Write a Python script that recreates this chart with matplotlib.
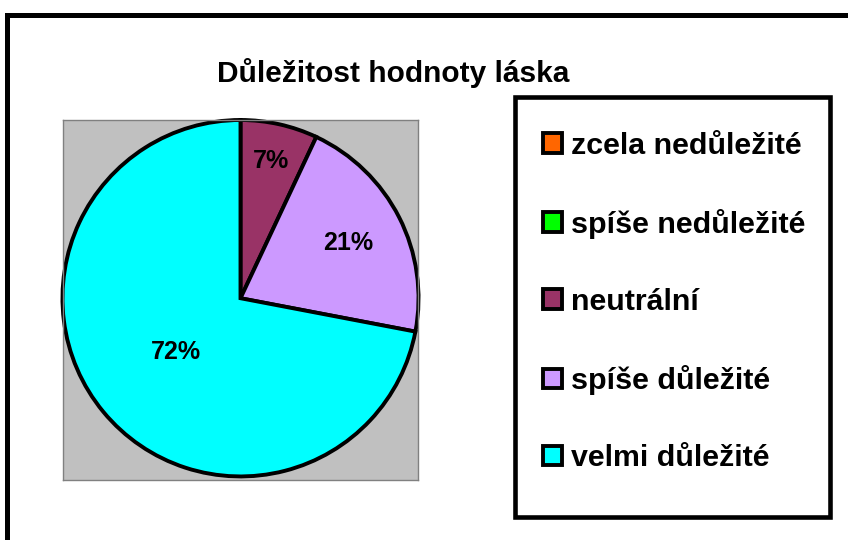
import numpy as np
import matplotlib
matplotlib.use('Agg')
import matplotlib.pyplot as plt
from matplotlib.patches import Rectangle

plt.rcParams['font.family'] = ['Liberation Sans', 'DejaVu Sans']
plt.rcParams['font.weight'] = 'bold'

# --- Data ---
categories = ['zcela nedůležité', 'spíše nedůležité', 'neutrální',
              'spíše důležité', 'velmi důležité']
shares = [0, 0, 7, 21, 72]
colors = ['#FF6600', '#00FF00', '#993366', '#CC99FF', '#00FFFF']
title = 'Důležitost hodnoty láska'

# label distance from center (fraction of radius), per slice
label_dist = [0.0, 0.0, 0.79, 0.68, 0.47]

# --- Plot ---
fig = plt.figure(figsize=(8.48, 5.4), dpi=100)
ax = fig.add_axes([63 / 848, 1 - 480 / 540, 355 / 848, 360 / 540])

wedges, _ = ax.pie(shares, colors=colors, startangle=90, counterclock=False,
                   radius=1.0,
                   wedgeprops=dict(edgecolor='black', linewidth=2.8))

for w, v, d in zip(wedges, shares, label_dist):
    if v == 0:
        continue
    ang = np.deg2rad((w.theta1 + w.theta2) / 2)
    ax.text(d * np.cos(ang), d * np.sin(ang), f'{v}%', ha='center', va='center',
            fontsize=18, fontweight='bold')

ax.set_frame_on(True)
ax.set_facecolor('#C0C0C0')
for s in ax.spines.values():
    s.set_color('#808080')
    s.set_linewidth(1)
ax.set_xlim(-0.997, 0.997)
ax.set_ylim(-1.02, 1.0)
ax.set_aspect('auto')
ax.set_xticks([])
ax.set_yticks([])

fig.text(393 / 848, 1 - 73 / 540, title, ha='center', va='center',
         fontsize=21.5, fontweight='bold')

# legend box
fig.patches.append(Rectangle((515 / 848, 1 - 517 / 540), 315 / 848, 420 / 540,
                             transform=fig.transFigure, fill=False,
                             edgecolor='black', linewidth=3.3))
fig.legend(wedges, categories, loc='center left',
           bbox_to_anchor=(543 / 848, 1 - 302 / 540), frameon=False,
           prop=dict(weight='bold', size=21.9),
           handlelength=0.62, handleheight=0.62, handletextpad=0.3,
           labelspacing=1.615, borderpad=0, borderaxespad=0)

# outer chart border
fig.patches.append(Rectangle((7 / 848, -0.1), 1.2, 1.1 - 15 / 540,
                             transform=fig.transFigure, fill=False,
                             edgecolor='black', linewidth=3.6))

plt.savefig('out.png', dpi=100)
